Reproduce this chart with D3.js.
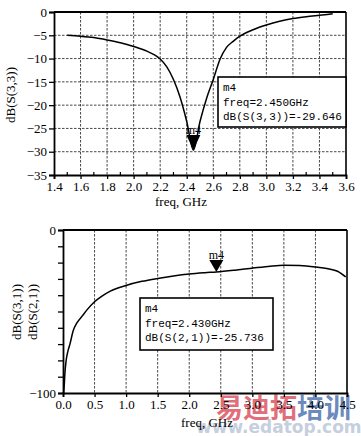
<!DOCTYPE html>
<html><head><meta charset="utf-8">
<script src="https://cdn.jsdelivr.net/npm/d3@7"></script>
<style>body{margin:0;background:#fff}svg{display:block}</style>
</head><body>
<svg id="c" width="361" height="436"></svg>
<script>
// ---- data ----
const s33Freq = [1.5,1.6,1.7,1.8,1.9,2.0,2.1,2.15,2.2,2.25,2.3,2.35,2.4,2.45,2.5,2.55,2.6,2.65,2.7,2.75,2.8,2.9,3.0,3.1,3.2,3.3,3.4,3.5];
const s33dB   = [-5.0,-5.2,-5.5,-6.0,-6.6,-7.4,-8.4,-9.1,-10.1,-11.8,-14.5,-18.3,-23.5,-29.646,-23.5,-18.5,-14.5,-10.2,-7.6,-6.3,-5.2,-3.8,-2.8,-2.0,-1.4,-1.0,-0.7,-0.4];
const s21Freq = [0.01,0.02,0.03,0.05,0.08,0.11,0.16,0.22,0.3,0.38,0.5,0.6,0.75,1.0,1.25,1.5,1.75,2.0,2.25,2.43,2.75,3.0,3.25,3.5,3.75,4.0,4.2,4.35,4.48];
const s21dB   = [-100,-95,-88,-80,-74,-70,-62,-57,-53,-49,-44,-41,-37.5,-34,-31.5,-29.7,-28.2,-27,-26.2,-25.736,-24.5,-23.4,-22.4,-21.6,-21.8,-22.7,-23.8,-25.3,-28.8];
const topXTicks = [1.4,1.6,1.8,2.0,2.2,2.4,2.6,2.8,3.0,3.2,3.4,3.6];
const topYTicks = [0,-5,-10,-15,-20,-25,-30,-35];
const botXTicks = [0,0.5,1.0,1.5,2.0,2.5,3.0,3.5,4.0,4.5];
const botYTicks = [0,-10,-20,-30,-40,-50,-60,-70,-80,-90,-100];
const botYLabeled = [0,-100];
const topMarker = {name:"m4", freq:2.45, value:-29.646, lines:["m4","freq=2.450GHz","dB(S(3,3))=-29.646"]};
const botMarker = {name:"m4", freq:2.43, value:-25.736, lines:["m4","freq=2.430GHz","dB(S(2,1))=-25.736"]};

const svg = d3.select("#c");
const serif = "'Liberation Serif','DejaVu Serif',serif";
const mono = "'Liberation Mono','DejaVu Sans Mono',monospace";

// watermark (drawn first, behind the chart)
const wm = svg.append("g").attr("opacity",0.75);
wm.append("text").attr("x",216).attr("y",418).style("font-family","'Noto Sans CJK SC'").style("font-weight","bold")
  .style("font-size","27px").attr("fill","#d8404e").text("易迪拓");
wm.append("text").attr("x",297).attr("y",418).style("font-family","'Noto Sans CJK SC'").style("font-weight","bold")
  .style("font-size","27px").attr("fill","#3a64a8").text("培训");
wm.append("text").attr("x",196).attr("y",433).style("font-family","'DejaVu Sans',sans-serif").style("font-weight","bold")
  .style("font-size","17px").attr("fill","#9fb0c8").attr("opacity",0.8).text("www.edatop.com");

function panel(o){
  const g = svg.append("g");
  const x = d3.scaleLinear().domain(o.xd).range([o.l,o.r]);
  const y = d3.scaleLinear().domain(o.yd).range([o.b,o.t]);
  if(o.hgrid){
    g.selectAll(".hg").data(o.yTicks.filter(v=>v!==o.yd[0]&&v!==o.yd[1])).enter().append("line")
      .attr("x1",o.l).attr("x2",o.r).attr("y1",d=>y(d)).attr("y2",d=>y(d))
      .attr("stroke","#333").attr("stroke-width",0.9).attr("stroke-dasharray","2.5,1.5");
  }
  g.selectAll(".vg").data(o.xTicks.filter(v=>v!==o.xd[0]&&v!==o.xd[1])).enter().append("line")
    .attr("x1",d=>x(d)).attr("x2",d=>x(d)).attr("y1",o.t).attr("y2",o.b)
    .attr("stroke","#333").attr("stroke-width",0.9).attr("stroke-dasharray","2.5,1.5");
  g.append("line").attr("x1",o.l).attr("x2",o.r).attr("y1",o.t).attr("y2",o.t).attr("stroke","#000").attr("stroke-width",2.2);
  g.append("line").attr("x1",o.r).attr("x2",o.r).attr("y1",o.t).attr("y2",o.b).attr("stroke","#000").attr("stroke-width",1.6);
  const xa = d3.axisBottom(x).tickValues(o.xTicks).tickFormat(d3.format(".1f")).tickSize(4).tickPadding(3);
  const gx = g.append("g").attr("transform",`translate(0,${o.b})`).call(xa);
  const ya = d3.axisLeft(y).tickValues(o.yTicks).tickFormat(d=>o.yLab.includes(d)?d3.format("d")(d):"").tickSize(5).tickPadding(2);
  const gy = g.append("g").attr("transform",`translate(${o.l},0)`).call(ya);
  [gx,gy].forEach(a=>{
    a.select(".domain").attr("stroke","#000").attr("stroke-width",1.8);
    a.selectAll(".tick line").attr("stroke","#000").attr("stroke-width",1.3);
    a.selectAll("text").attr("fill","#000").style("font-family",serif).style("font-size","13px");
  });
  if(o.minor){
    g.selectAll(".mn").data(o.minor).enter().append("line")
      .attr("x1",d=>x(d)).attr("x2",d=>x(d)).attr("y1",o.b).attr("y2",o.b-3)
      .attr("stroke","#000").attr("stroke-width",1.2);
  }
  const line = d3.line().x(d=>x(d[0])).y(d=>y(d[1])).curve(d3.curveMonotoneX);
  g.append("path").datum(d3.zip(o.fx,o.fy)).attr("d",line).attr("fill","none").attr("stroke","#000").attr("stroke-width",1.5);
  const mx = x(o.m.freq), my = y(o.m.value);
  g.append("path").attr("d",`M${mx-7},${my-o.triH}L${mx+7},${my-o.triH}L${mx},${my}Z`).attr("fill","#000");
  g.append("text").attr("x",mx).attr("y",my-o.triH-1).attr("text-anchor","middle")
    .style("font-family",serif).style("font-size","12px").text(o.m.name);
  const bx = o.box;
  g.append("rect").attr("x",bx[0]).attr("y",bx[1]).attr("width",bx[2]-bx[0]).attr("height",bx[3]-bx[1])
    .attr("fill","#fff").attr("stroke","#000").attr("stroke-width",1.6);
  g.selectAll(".bt").data(o.m.lines).enter().append("text")
    .attr("x",bx[0]+5).attr("y",(d,i)=>bx[1]+14+i*14.7)
    .style("font-family",mono).style("font-size","11px").attr("fill","#000").text(d=>d);
  g.append("text").attr("x",o.xl[0]).attr("y",o.xl[1]).attr("text-anchor","middle")
    .style("font-family",serif).style("font-size","13px").text("freq, GHz");
  o.ylabs.forEach(yl=>{
    g.append("text").attr("transform",`translate(${yl[0]},${yl[1]}) rotate(-90)`).attr("text-anchor","middle")
      .style("font-family",serif).style("font-size","13px").text(yl[2]);
  });
  return {x,y};
}

const topMinor = d3.range(14,36).map(v=>v/10).filter(v=>Math.round(v*10)%2===1);
panel({l:54,r:346,t:12,b:175,xd:[1.4,3.6],yd:[-35,0],xTicks:topXTicks,yTicks:topYTicks,yLab:topYTicks,
  hgrid:true,minor:topMinor,fx:s33Freq,fy:s33dB,m:topMarker,triH:15,box:[218,77,346,127],
  xl:[181,206],ylabs:[[15,95,"dB(S(3,3))"]]});
panel({l:63,r:347,t:230,b:393,xd:[0,4.5],yd:[-100,0],xTicks:botXTicks,yTicks:botYTicks,yLab:botYLabeled,
  hgrid:false,minor:null,fx:s21Freq,fy:s21dB,m:botMarker,triH:12,box:[140,298,273,350],
  xl:[207,427],ylabs:[[21,312,"dB(S(3,1))"],[37,312,"dB(S(2,1))"]]});
</script>
</body></html>
